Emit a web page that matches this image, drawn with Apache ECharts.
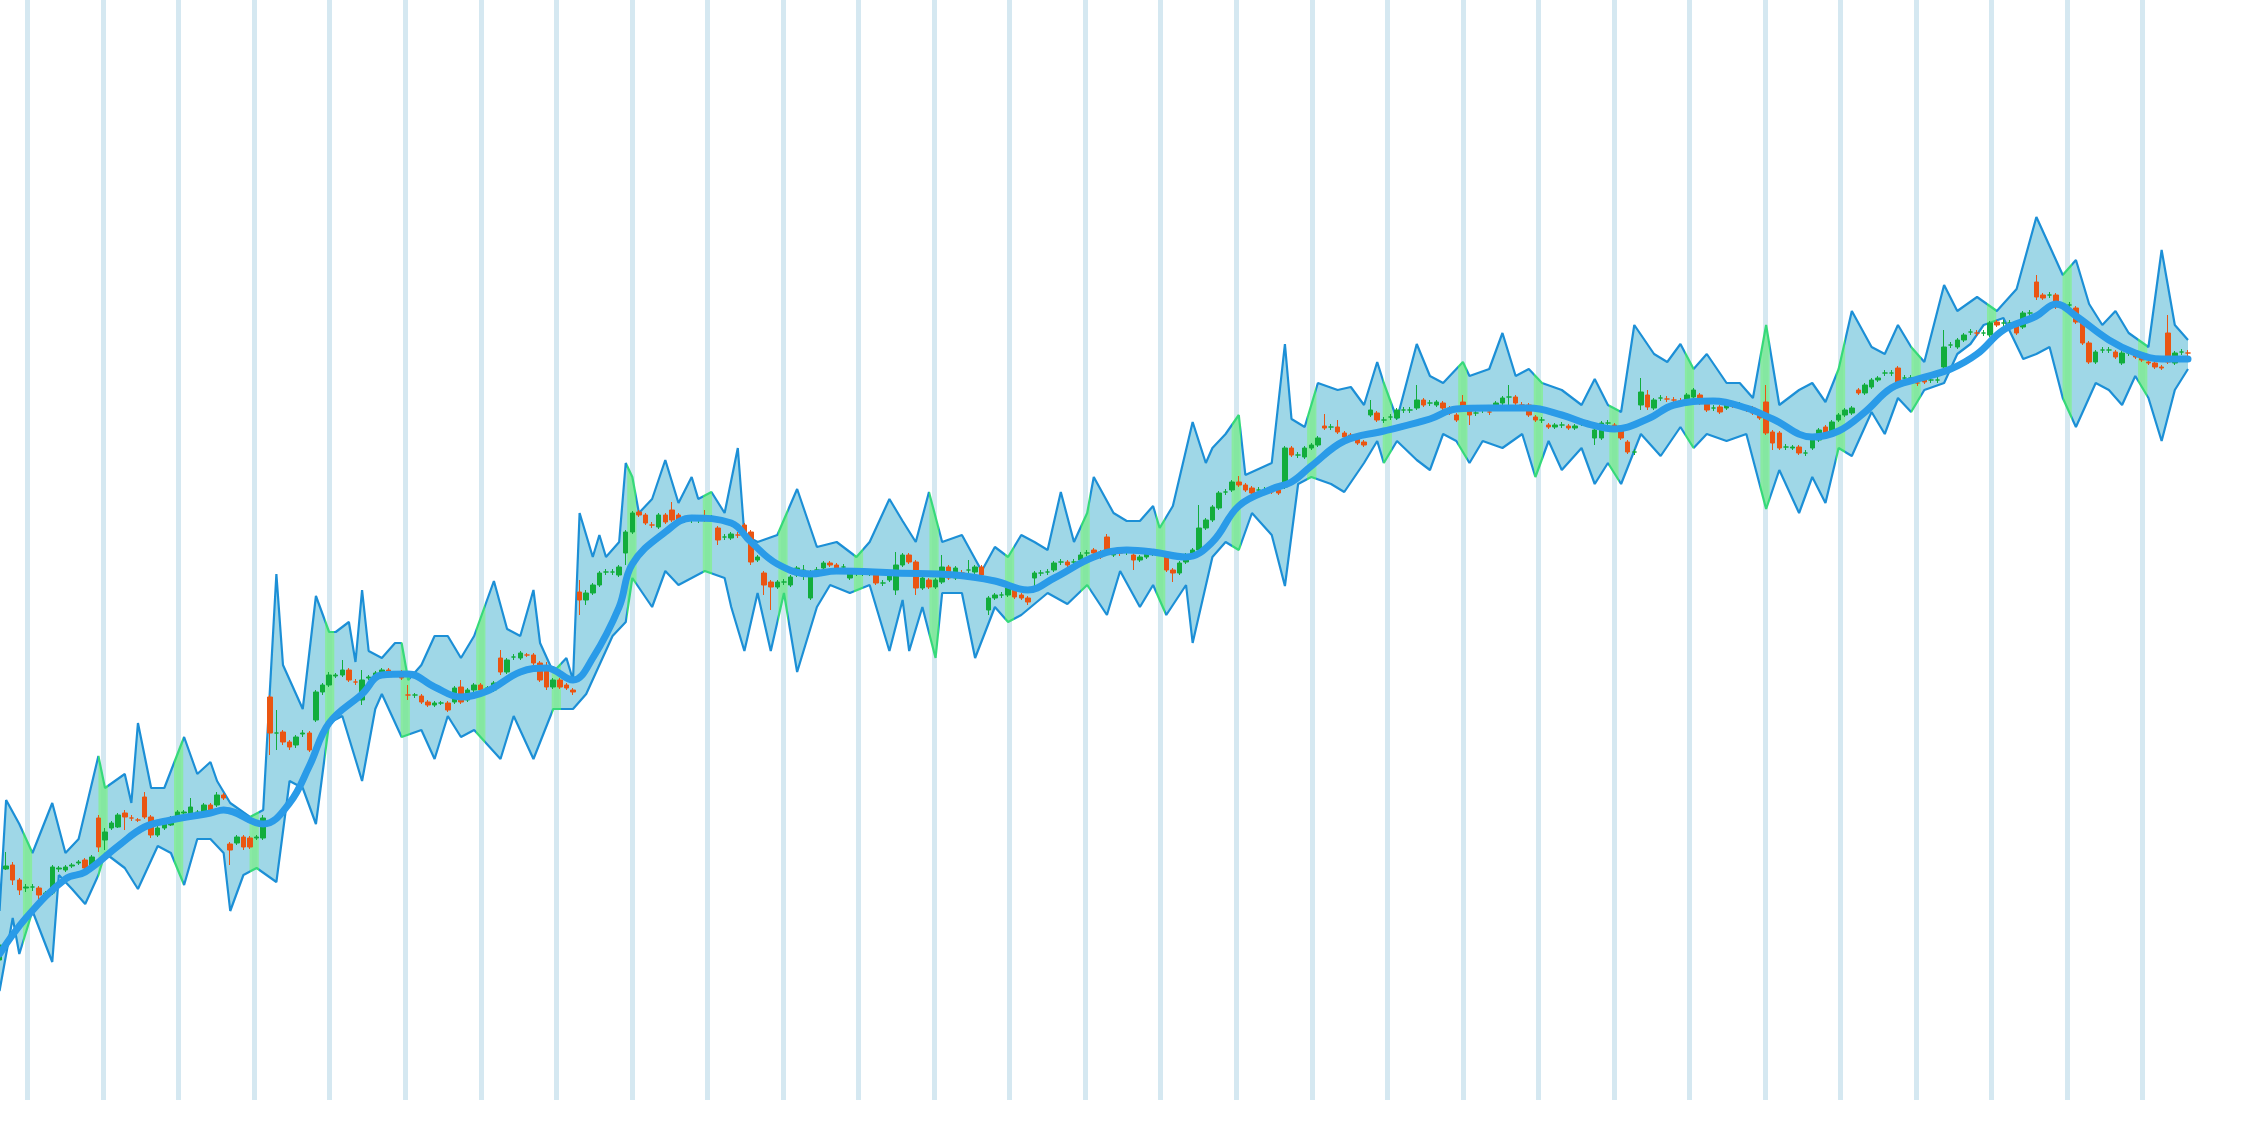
<!DOCTYPE html>
<html>
<head>
<meta charset="utf-8">
<script src="https://cdn.jsdelivr.net/npm/echarts@6/dist/echarts.min.js"></script>
<style>
  html, body { margin: 0; padding: 0; background: #fff; overflow: hidden; }
  #main { width: 2316px; height: 1148px; margin-left: -48px; }
</style>
</head>
<body>
<div id="main"></div>
<script>
// candles: [open, close, low, high], one per trading day
const candles = [
  [140,155,135,158],[231,234,230,248],[235,220,215,238],[220,210,205,222],[212,213,208,216],
  [213,213,209,216],[212,205,200,214],[206,207,203,209],[207,233,205,235],[231,232,228,234],
  [230,233,228,235],[234,235,232,237],[237,238,235,240],[240,232,230,242],[232,243,230,245],
  [282,253,248,285],[260,268,250,272],[272,277,270,279],[273,285,272,287],[287,283,270,290],
  [282,282,279,285],[280,280,278,282],[303,283,281,308],[283,265,262,285],[265,272,263,274],
  [272,277,270,279],[275,282,274,284],[282,288,280,290],[287,288,285,290],[283,293,280,302],
  [287,288,285,290],[288,295,286,297],[295,290,288,297],[295,305,293,308],[305,302,300,307],
  [256,250,235,258],[257,263,255,265],[263,253,250,265],[262,253,251,264],[262,263,260,265],
  [262,282,260,285],[403,367,345,405],[367,367,350,390],[368,358,355,370],[358,353,350,360],
  [355,363,352,365],[366,367,363,370],[367,350,348,369],[380,408,378,410],[408,415,405,417],
  [415,425,413,428],[424,425,422,427],[425,430,423,440],[430,420,418,432],[418,418,415,421],
  [400,420,395,430],[422,423,420,425],[422,427,420,429],[425,430,423,432],[430,425,423,432],
  [427,427,425,429],[428,422,420,430],[405,405,400,415],[405,405,402,407],[404,398,396,406],
  [398,395,393,400],[395,397,393,399],[397,397,395,399],[397,390,388,399],[398,412,396,414],
  [413,398,396,420],[400,410,398,412],[410,415,408,417],[415,410,408,417],[412,412,410,414],
  [410,417,408,419],[442,428,425,450],[428,440,426,442],[443,443,440,446],[442,447,440,449],
  [445,445,443,447],[445,437,435,447],[437,420,418,439],[433,413,410,438],[413,420,411,422],
  [420,413,411,422],[415,412,410,417],[410,408,405,412],[508,500,485,520],[500,507,495,510],
  [507,515,505,517],[515,527,513,529],[528,528,525,531],[528,528,525,531],[525,533,523,535],
  [547,568,535,570],[568,587,566,589],[588,585,583,590],[585,577,575,587],[575,575,572,578],
  [573,585,571,587],[585,578,576,587],[590,580,578,598],[585,580,578,587],[580,580,577,583],
  [580,580,577,583],[580,580,577,583],[584,580,578,590],[582,582,579,585],[572,560,555,574],
  [563,563,560,566],[562,566,560,568],[565,565,562,568],[575,568,566,577],[568,538,535,570],
  [540,543,538,545],[527,515,505,529],[518,513,490,520],[513,518,511,520],[518,518,515,521],
  [515,523,513,525],[525,532,523,534],[528,530,520,535],[502,528,500,530],[530,530,527,533],
  [532,537,530,539],[537,535,533,539],[535,532,530,537],[533,533,530,536],[522,527,520,529],
  [527,527,524,530],[527,527,524,530],[527,527,524,530],[527,517,515,529],[517,517,514,520],
  [520,525,518,527],[510,535,505,548],[535,545,533,547],[545,538,536,547],[538,512,505,540],
  [512,522,510,524],[520,513,511,522],[513,520,511,522],[518,533,516,545],[533,522,520,535],
  [522,532,520,534],[527,527,524,530],[530,530,527,540],[528,533,526,535],[533,525,523,535],
  [490,502,485,504],[502,505,500,507],[505,505,502,508],[505,512,503,514],[510,503,501,512],
  [505,502,500,507],[502,498,495,504],[522,527,510,529],[527,527,524,530],[528,528,525,531],
  [530,537,528,539],[538,538,535,541],[538,535,533,540],[538,538,535,541],[540,545,538,548],
  [547,547,544,550],[550,547,545,552],[548,543,541,550],[563,547,545,566],[545,550,543,552],
  [547,547,544,550],[548,548,545,551],[545,540,530,547],[540,543,538,545],[543,547,541,549],
  [547,547,544,550],[547,547,544,550],[545,530,528,547],[530,527,518,532],[527,537,525,539],
  [538,545,536,547],[545,550,543,552],[550,572,548,595],[572,580,570,582],[580,593,578,595],
  [592,607,590,609],[608,608,605,611],[610,618,608,620],[618,615,613,624],[615,610,608,617],
  [612,607,605,614],[610,610,607,613],[610,610,607,613],[610,608,606,612],[610,607,605,612],
  [613,652,611,654],[652,645,643,654],[645,645,642,648],[643,652,641,654],[652,655,650,657],
  [655,662,653,664],[674,672,670,686],[673,673,670,676],[673,668,666,680],[667,663,661,669],
  [665,662,660,667],[663,657,655,665],[658,655,653,660],[685,690,683,700],[687,680,678,689],
  [680,680,677,683],[683,683,680,686],[682,690,680,692],[690,690,687,693],[690,690,687,693],
  [692,700,690,715],[700,695,693,702],[697,697,694,700],[695,698,693,700],[697,692,690,699],
  [692,687,685,694],[685,680,678,687],[698,690,688,705],[692,685,675,694],[687,687,684,690],
  [690,690,687,693],[688,688,685,691],[692,697,690,699],[697,702,695,704],[703,703,690,715],
  [703,697,695,705],[695,695,692,698],[695,685,683,697],[683,680,678,685],[680,680,677,683],
  [675,673,671,677],[673,675,671,677],[675,675,672,678],[674,672,670,676],[672,674,670,676],
  [677,677,674,680],[678,675,673,680],[662,670,655,672],[662,677,660,679],[677,677,674,680],
  [675,670,668,677],[670,662,660,672],[658,648,646,660],[648,648,645,651],[695,708,690,722],
  [705,693,690,710],[692,700,690,702],[702,702,699,705],[701,701,698,704],[700,700,697,703],
  [699,699,696,702],[697,705,695,707],[703,710,701,712],[705,697,695,707],[697,690,688,699],
  [692,692,689,695],[693,688,686,695],[692,697,690,699],[695,695,692,698],[695,695,692,698],
  [693,690,688,695],[692,687,685,694],[688,682,680,690],[698,667,665,715],[668,657,650,670],
  [667,652,650,669],[653,653,650,656],[652,653,650,655],[653,647,645,655],[647,647,644,650],
  [652,660,650,662],[660,670,658,672],[673,663,661,675],[667,678,665,680],[680,685,678,687],
  [685,690,683,692],[687,692,685,694],[710,707,705,712],[707,715,705,717],[713,720,711,722],
  [720,722,718,724],[727,727,724,730],[727,727,724,730],[732,718,716,734],[722,722,719,725],
  [722,722,719,725],[717,717,714,720],[722,718,716,724],[720,720,717,723],[720,720,717,723],
  [733,753,731,770],[755,755,752,758],[753,760,751,762],[760,765,758,767],[768,768,765,771],
  [767,767,764,770],[767,767,764,770],[765,777,763,779],[778,775,773,780],[777,777,774,780],
  [777,777,774,780],[777,767,765,779],[773,787,771,789],[787,787,784,790],[818,803,800,825],
  [805,802,800,807],[805,805,802,808],[805,793,791,807],[795,795,792,798],[795,795,792,798],
  [792,778,776,794],[777,757,755,779],[757,738,736,759],[738,748,736,750],[750,750,747,753],
  [750,750,747,753],[748,743,741,750],[737,747,735,749],[747,747,744,750],[747,743,741,749],
  [745,740,738,747],[738,737,735,740],[737,733,731,739],[733,732,730,735],[767,738,736,785],
  [737,747,735,749],[748,748,745,751],[747,747,744,750]
];

// upper / lower edge of the band: [day, value]
const bandUpper = [
  [0,189],[1,300],[3,276],[5,247],[8,297],[10,247],[12,261],[15,344],[16,312],[19,326],[20,297],
  [21,377],[23,312],[25,312],[28,363],[30,326],[32,338],[33,319],[35,297],[38,283],[40,290],
  [42,526],[43,435],[46,391],[48,504],[50,468],[51,468],[53,478],[54,438],[55,510],[56,449],
  [58,442],[60,457],[61,457],[62,420],[64,435],[66,464],[68,464],[70,442],[72,464],[75,519],
  [77,471],[79,464],[81,510],[82,457],[84,428],[86,442],[87,420],[88,587],[90,543],[91,565],
  [92,543],[94,558],[95,637],[96,623],[97,587],[99,601],[101,640],[103,597],[105,623],[106,601],
  [108,608],[110,587],[112,652],[113,565],[115,558],[118,565],[121,611],[124,553],[127,558],
  [130,543],[132,558],[135,601],[137,579],[139,558],[141,608],[143,558],[146,565],[149,529],
  [151,553],[153,543],[155,565],[157,558],[159,550],[161,608],[163,558],[165,587],[166,623],
  [169,587],[171,579],[173,579],[175,594],[176,572],[178,594],[181,678],[183,637],[184,652],
  [186,666],[188,685],[189,625],[193,637],[195,756],[196,681],[198,673],[200,717],[203,710],
  [205,713],[207,695],[209,738],[210,717],[212,681],[215,756],[217,724],[219,717],[222,738],
  [223,724],[226,731],[228,767],[230,724],[232,731],[234,717],[237,710],[240,695],[242,721],
  [244,695],[246,688],[248,775],[251,746],[253,738],[255,756],[257,731],[259,746],[262,717],
  [264,717],[266,702],[268,775],[270,695],[273,710],[275,717],[277,698],[279,731],[281,789],
  [284,753],[286,746],[288,775],[290,753],[292,738],[295,815],[297,789],[300,803],[303,789],
  [306,811],[309,883],[311,854],[313,825],[315,840],[317,796],[319,775],[321,789],[323,767],
  [326,753],[328,850],[330,775],[332,760]
];
const bandLower = [
  [0,109],[2,182],[3,146],[5,189],[8,138],[9,225],[11,211],[13,196],[15,225],[16,247],[19,232],
  [21,211],[24,254],[26,247],[28,215],[30,261],[32,261],[34,247],[35,189],[37,225],[39,232],
  [42,218],[44,319],[46,312],[48,276],[50,377],[52,384],[55,319],[57,391],[58,406],[61,363],
  [64,370],[66,341],[68,384],[70,363],[72,370],[76,341],[78,384],[81,341],[84,391],[87,391],
  [89,406],[91,435],[93,464],[95,478],[96,522],[99,493],[101,529],[103,515],[105,522],[107,529],
  [110,522],[111,493],[113,449],[115,507],[117,449],[119,507],[121,428],[124,493],[126,515],
  [129,507],[132,515],[135,449],[137,500],[138,449],[140,493],[142,442],[143,507],[146,507],
  [148,442],[151,493],[153,478],[155,485],[159,507],[162,496],[165,515],[168,485],[170,529],
  [173,493],[175,515],[177,485],[180,515],[181,457],[184,543],[186,558],[188,550],[190,587],
  [193,565],[195,514],[197,616],[199,623],[202,616],[204,608],[207,637],[209,659],[210,637],
  [212,659],[215,640],[217,630],[219,666],[221,659],[223,637],[225,659],[228,652],[231,666],
  [233,623],[235,659],[237,630],[240,652],[242,616],[244,637],[246,616],[249,666],[252,644],
  [255,673],[257,652],[259,666],[262,659],[265,666],[268,591],[270,630],[273,587],[275,623],
  [277,597],[279,652],[281,644],[284,688],[286,666],[288,702],[290,688],[292,710],[295,717],
  [297,746],[299,756],[301,775],[304,782],[307,741],[309,746],[311,753],[313,702],[315,673],
  [318,717],[320,710],[322,695],[324,724],[326,702],[328,659],[330,710],[332,731]
];

// moving average line: [day, value]
const maLine = [
  [0,146],[4,182],[10,221],[13,228],[18,254],[22,273],[26,280],[32,287],[34,290],[40,276],
  [44,297],[47,334],[50,377],[55,406],[58,425],[62,426],[66,413],[70,403],[74,409],[79,428],
  [83,432],[87,420],[90,442],[94,493],[96,536],[101,568],[105,582],[111,577],[114,558],
  [118,536],[123,526],[127,529],[136,527],[145,525],[151,519],[156,510],[160,522],[166,543],
  [171,550],[175,548],[180,543],[184,558],[188,594],[193,611],[196,618],[199,634],[204,659],
  [210,669],[217,681],[221,691],[226,692],[232,692],[237,685],[241,676],[245,671],[250,681],
  [254,695],[260,699],[265,692],[269,681],[275,663],[279,669],[283,688],[287,712],[291,721],
  [296,731],[300,746],[304,770],[309,784],[312,796],[315,784],[320,760],[324,747],[328,741],
  [332,741]
];

const xMin = -7.21;
const xStep = 11.46;
const xMax = 332;

const myChart = echarts.init(document.getElementById('main'));

// split positions, used for the green highlight strips
const ticks = [];
for (let t = xMin; t <= xMax; t += xStep) ticks.push(t);

const greenPieces = ticks.map(function (t) {
    return { gt: t - 0.7, lte: t + 0.7, color: '#36d97a' };
});

const option = {
    animation: false,
    grid: { left: 0, right: 80, top: 0, bottom: 48, outerBoundsMode: 'none' },
    xAxis: {
        type: 'value',
        min: xMin,
        max: xMax,
        interval: xStep,
        axisLine: { show: false },
        axisTick: { show: false },
        axisLabel: { show: false },
        splitLine: {
            show: true,
            showMaxLine: false,
            lineStyle: { color: '#d5e8f1', width: 5 }
        }
    },
    yAxis: {
        type: 'value',
        min: 0,
        max: 1100,
        show: false,
        splitLine: { show: false }
    },
    visualMap: {
        show: false,
        type: 'piecewise',
        dimension: 0,
        seriesIndex: [1, 2],
        pieces: greenPieces,
        outOfRange: { color: '#1c8fd6' }
    },
    series: [
        {
            // band fill with green strips at the split lines
            type: 'custom',
            data: [0],
            z: 1,
            silent: true,
            renderItem: function (params, api) {
                const pts = bandUpper.map(function (p) { return api.coord(p); })
                    .concat(bandLower.slice().reverse().map(function (p) { return api.coord(p); }));
                const children = [{
                    type: 'polygon',
                    shape: { points: pts },
                    style: { fill: 'rgba(64,176,208,0.5)' }
                }];
                ticks.forEach(function (t) {
                    const a = api.coord([t - 0.7, 1100]);
                    const b = api.coord([t + 0.7, 0]);
                    children.push({
                        type: 'rect',
                        shape: { x: a[0], y: a[1], width: b[0] - a[0], height: b[1] - a[1] },
                        style: { fill: 'rgba(130,240,140,0.75)' },
                        clipPath: { type: 'polygon', shape: { points: pts } }
                    });
                });
                return { type: 'group', children: children };
            }
        },
        {
            type: 'line',
            data: bandUpper,
            symbol: 'none',
            z: 2,
            lineStyle: { width: 2.2 }
        },
        {
            type: 'line',
            data: bandLower,
            symbol: 'none',
            z: 2,
            lineStyle: { width: 2.2 }
        },
        {
            type: 'candlestick',
            data: candles.map(function (c, i) { return [i].concat(c); }),
            encode: { x: 0, y: [1, 2, 3, 4] },
            barWidth: 5,
            z: 3,
            itemStyle: {
                color: '#12ad3c',
                color0: '#ea5512',
                borderColor: '#12ad3c',
                borderColor0: '#ea5512',
                borderWidth: 1
            }
        },
        {
            type: 'line',
            data: maLine,
            smooth: 0.4,
            symbol: 'none',
            z: 4,
            lineStyle: { color: '#2a9be8', width: 7, cap: 'round' }
        }
    ]
};

myChart.setOption(option);
</script>
</body>
</html>
